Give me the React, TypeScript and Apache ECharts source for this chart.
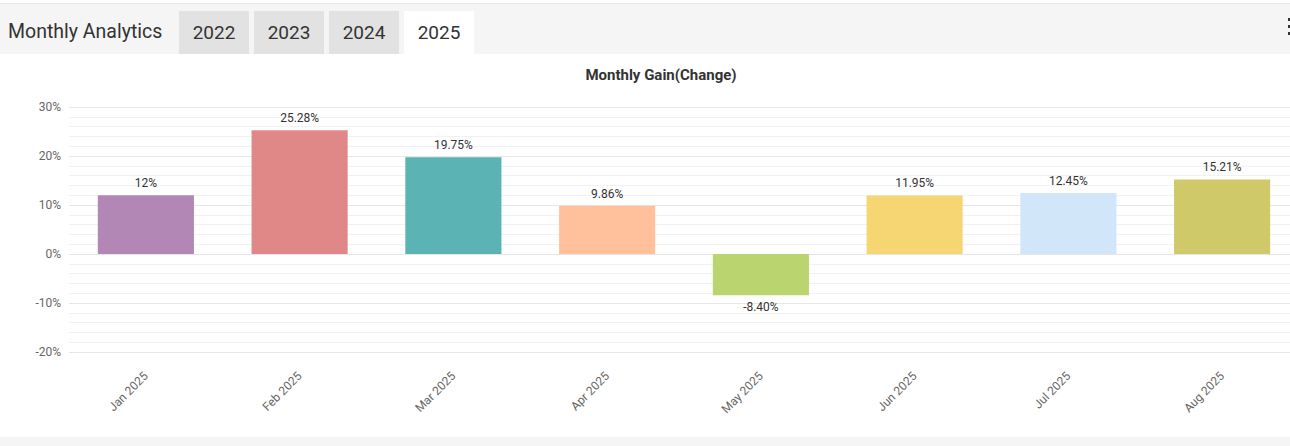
import React, { useEffect, useRef } from "react";
import * as echarts from "echarts";

const months = ["Jan 2025", "Feb 2025", "Mar 2025", "Apr 2025", "May 2025", "Jun 2025", "Jul 2025", "Aug 2025"];
const gains = [12, 25.28, 19.75, 9.86, -8.4, 11.95, 12.45, 15.21];
const gainLabels = ["12%", "25.28%", "19.75%", "9.86%", "-8.40%", "11.95%", "12.45%", "15.21%"];
const barColors = ["#b286b5", "#e08887", "#5bb3b3", "#ffc09b", "#bad46f", "#f6d673", "#d1e6f8", "#cfc96a"];
const years = ["2022", "2023", "2024", "2025"];
const activeYear = "2025";

const FONT = "Roboto, 'Noto Sans', sans-serif";

function GainChart() {
  const ref = useRef<HTMLDivElement>(null);
  useEffect(() => {
    if (!ref.current) return;
    const chart = echarts.init(ref.current, undefined, { renderer: "svg" });
    chart.setOption({
      animation: false,
      textStyle: { fontFamily: FONT },
      title: {
        text: "Monthly Gain(Change)",
        left: 656,
        textAlign: "center",
        top: 8,
        textStyle: { fontFamily: FONT, fontSize: 15, fontWeight: "bold", color: "#333" },
      },
      grid: { left: 69, right: 1, top: 53, bottom: 85, containLabel: false },
      xAxis: {
        type: "category",
        data: months,
        axisLine: { show: false },
        axisTick: { show: false },
        axisLabel: { rotate: 45, color: "#666", fontSize: 12, margin: 22, fontFamily: FONT },
      },
      yAxis: {
        type: "value",
        min: -20,
        max: 30,
        interval: 10,
        axisLine: { show: false },
        axisTick: { show: false },
        axisLabel: { formatter: "{value}%", color: "#666", fontSize: 12, margin: 8, fontFamily: FONT },
        splitLine: { lineStyle: { color: "#e6e6e6", width: 1 } },
        minorTick: { show: false, splitNumber: 5 },
        minorSplitLine: { show: true, lineStyle: { color: "#f2f2f2", width: 1 } },
      },
      series: [
        {
          type: "bar",
          barWidth: "62.5%",
          data: gains.map((v, i) => ({
            value: v,
            itemStyle: { color: barColors[i] },
            label: {
              show: true,
              position: v < 0 ? "bottom" : "top",
              distance: 6,
              formatter: gainLabels[i],
              color: "#333",
              fontSize: 12,
              fontFamily: FONT,
            },
          })),
        },
      ],
    });
    return () => chart.dispose();
  }, []);
  return <div ref={ref} style={{ width: 1300, height: 383 }} />;
}

export default function App() {
  useEffect(() => {
    document.body.style.margin = "0";
  }, []);
  return (
    <div
      style={{
        position: "fixed",
        left: 0,
        top: 0,
        width: 1290,
        height: 446,
        overflow: "hidden",
        background: "#f5f5f5",
        fontFamily: FONT,
      }}
    >
      <div style={{ position: "absolute", left: 0, top: 0, width: 1290, height: 4, background: "#fff" }} />
      <div style={{ position: "absolute", left: 0, top: 3, width: 1290, height: 1, background: "#e6e6e6" }} />
      <div
        style={{
          position: "absolute",
          left: 8,
          top: 19,
          fontSize: 19.5,
          color: "#333",
          lineHeight: "26px",
          whiteSpace: "nowrap",
        }}
      >
        Monthly Analytics
      </div>
      {years.map((y, i) => (
        <div
          key={y}
          style={{
            position: "absolute",
            left: 179 + i * 75,
            top: 11,
            width: 70,
            height: 43,
            background: y === activeYear ? "#fff" : "#e2e2e2",
            color: "#333",
            fontSize: 19,
            lineHeight: "43px",
            textAlign: "center",
          }}
        >
          {y}
        </div>
      ))}
      {[18, 25, 32].map((t) => (
        <div
          key={t}
          style={{ position: "absolute", left: 1288, top: t, width: 3, height: 3, background: "#333" }}
        />
      ))}
      <div style={{ position: "absolute", left: 0, top: 54, width: 1290, height: 383, background: "#fff", overflow: "hidden" }}>
        <GainChart />
      </div>
    </div>
  );
}
